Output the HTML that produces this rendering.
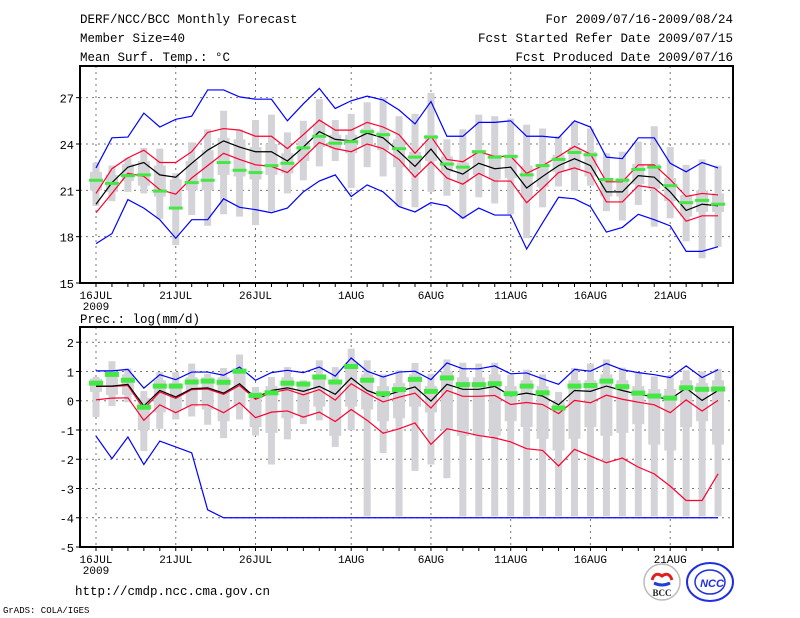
<!DOCTYPE html>
<html><head><meta charset="utf-8"><style>
body{margin:0;background:#fff;}
svg{display:block;font-family:"Liberation Mono","DejaVu Sans Mono",monospace;}
</style></head><body>
<svg id="c" width="800" height="618" viewBox="0 0 800 618">
<rect width="800" height="618" fill="#fff"/>
<g font-size="12.5" fill="#000">
<text x="80" y="23">DERF/NCC/BCC Monthly Forecast</text>
<text x="80" y="42">Member Size=40</text>
<text x="80" y="61">Mean Surf. Temp.: °C</text>
<text x="733" y="23" text-anchor="end">For 2009/07/16-2009/08/24</text>
<text x="733" y="42" text-anchor="end">Fcst Started Refer Date 2009/07/15</text>
<text x="733" y="61" text-anchor="end">Fcst Produced Date 2009/07/16</text>
<text x="80" y="323">Prec.: log(mm/d)</text>
<text x="75" y="595">http://cmdp.ncc.cma.gov.cn</text>
</g>
<text x="3" y="613" font-size="9">GrADS: COLA/IGES</text>
<g>
<circle cx="662" cy="582" r="18" fill="#fff" stroke="#bbb" stroke-width="1.5"/>
<path d="M652 580 q3 -9 10 -4 q7 -5 10 4" fill="none" stroke="#e02020" stroke-width="3"/>
<path d="M654 583 q8 4 16 0" fill="none" stroke="#2040d0" stroke-width="3"/>
<text x="662" y="596" font-size="9" font-weight="bold" text-anchor="middle" fill="#222" font-family="Liberation Serif,serif">BCC</text>
</g>
<g>
<ellipse cx="710" cy="582" rx="23" ry="19" fill="#fff" stroke="#2030e0" stroke-width="2"/>
<ellipse cx="710" cy="582" rx="15" ry="12" fill="none" stroke="#2030e0" stroke-width="1.5"/>
<text x="712" y="587" font-size="11" font-weight="bold" font-style="italic" text-anchor="middle" fill="#2030e0" font-family="Liberation Sans,sans-serif">NCC</text>
</g>
<g id="topPanel"></g>
<g id="botPanel"></g>
</svg>
<script>
// ---- temperature data (40 days from 16JUL) ----
const tMean=[20.1,21.5,22.5,22.8,22.0,21.85,22.75,23.6,24.2,23.8,23.5,23.5,22.9,23.8,24.8,24.3,24.2,24.7,24.4,23.5,22.55,23.67,22.4,22.05,22.75,22.4,22.5,21.15,21.9,22.6,23.05,22.6,20.9,20.9,21.95,21.85,20.9,19.7,20.1,20.0];
const tRedHi=[20.8,22.4,23.1,23.6,22.8,22.8,23.5,24.75,25.0,24.9,24.5,24.5,23.7,24.6,25.55,24.9,24.9,25.4,25.1,24.6,23.4,24.5,23.0,22.85,23.5,23.2,23.2,22.1,22.6,23.2,23.85,23.35,21.55,21.55,22.65,22.65,21.7,20.6,20.8,20.7];
const tRedLo=[19.55,20.8,22.1,21.9,21.05,20.75,21.8,22.6,23.4,23.0,22.65,22.55,22.15,23.1,24.1,23.7,23.5,24.0,23.7,23.0,21.85,22.85,21.8,21.4,22.1,21.6,21.6,20.2,21.15,22.15,22.45,22.1,20.25,20.25,21.3,21.15,20.3,19.0,19.35,19.35];
const tMax=[22.45,24.4,24.45,26.0,25.1,25.6,25.8,27.5,27.5,27.05,26.9,26.9,25.5,26.6,27.6,26.3,26.8,27.1,26.85,26.2,25.3,26.75,24.5,24.5,25.4,25.4,25.5,24.5,24.5,24.4,25.5,25.1,23.15,23.05,24.4,24.4,22.75,22.2,22.8,22.45];
const tMin=[17.55,18.2,20.4,19.85,19.1,17.9,19.1,19.1,20.45,19.9,19.75,19.55,19.85,20.9,21.6,22.0,20.6,21.35,20.9,19.95,19.6,20.2,20.0,19.2,19.85,19.4,19.4,17.2,18.9,20.55,20.45,19.95,18.3,18.6,19.45,19.1,18.7,17.05,17.05,17.35];
const tCtl=[21.65,21.45,21.95,22.0,20.95,19.85,21.5,21.65,22.8,22.3,22.15,22.6,22.75,23.75,24.5,24.05,24.15,24.8,24.6,23.7,23.15,24.45,22.7,22.5,23.5,23.15,23.2,22.0,22.6,23.0,23.45,23.3,21.7,21.65,22.35,22.5,21.3,20.2,20.35,20.1];
const tBoxHi=[22.8,22.6,23.1,23.75,23.7,22.1,24.1,24.95,26.15,24.95,25.55,25.9,24.75,25.5,26.9,25.55,25.95,26.7,27.0,25.8,25.95,27.3,24.3,24.95,25.9,25.8,25.65,25.25,25.0,24.5,25.45,25.0,23.4,23.5,24.15,25.15,23.8,22.65,23.0,22.6];
const tBoxLo=[20.0,20.3,20.9,20.8,19.15,17.45,19.4,18.7,19.45,19.3,18.75,19.65,20.8,21.65,22.55,22.9,21.15,22.5,21.9,19.95,19.9,20.9,20.65,19.15,20.55,20.15,19.45,17.9,19.9,21.25,20.95,21.3,19.65,19.05,20.05,18.65,19.2,17.7,16.6,17.35];
const tInHi=[22.2,22.0,22.7,22.9,22.6,21.7,22.9,23.6,24.4,24.3,23.8,24.0,23.4,24.2,25.3,24.6,24.6,25.0,24.8,24.3,23.5,24.6,23.2,22.8,23.6,23.3,23.3,22.6,22.7,23.3,23.8,23.5,21.8,21.8,22.7,22.7,21.8,20.7,21.0,20.8];
const tInLo=[21.0,20.9,21.6,21.3,20.6,19.9,21.0,21.0,22.0,21.9,21.7,22.0,22.1,22.9,23.8,23.7,23.4,23.9,23.6,22.5,22.3,22.9,22.2,21.5,22.0,21.7,21.8,20.5,21.2,22.2,22.3,21.9,20.6,20.6,21.4,21.1,20.3,19.3,19.6,19.6];
// ---- precipitation data ----
const pMean=[0.5,0.5,0.56,-0.18,0.35,0.13,0.41,0.44,0.26,0.58,0.1,0.35,0.44,0.32,0.49,0.22,0.78,0.35,0.15,0.32,0.47,-0.01,0.56,0.39,0.39,0.49,0.17,0.26,0.16,-0.14,0.35,0.32,0.5,0.35,0.22,0.13,0.05,0.43,0.01,0.35];
const pRedHi=[0.49,0.49,0.52,-0.28,0.3,0.08,0.38,0.4,0.22,0.52,0.05,0.28,0.38,0.2,0.38,0.02,0.58,0.25,-0.04,0.12,0.26,-0.25,0.35,0.15,0.15,0.18,-0.13,-0.06,-0.13,-0.44,0.01,-0.07,0.19,0.05,-0.05,-0.14,-0.41,0.03,-0.35,0.01];
const pRedLo=[0.03,0.09,0.1,-0.67,-0.14,-0.41,-0.14,-0.14,-0.41,-0.07,-0.58,-0.39,-0.35,-0.56,-0.39,-0.71,-0.3,-0.67,-1.11,-0.96,-0.76,-1.49,-0.96,-1.07,-1.19,-1.27,-1.41,-1.64,-1.7,-2.23,-1.66,-1.89,-2.12,-1.96,-2.27,-2.5,-2.92,-3.41,-3.41,-2.5];
const pMax=[1.02,1.02,1.07,0.43,0.89,0.72,0.98,0.98,0.87,1.15,0.7,0.96,1.04,0.96,1.15,0.84,1.46,1.01,0.81,0.98,1.01,0.72,1.29,1.09,1.09,1.19,0.92,0.95,0.75,0.56,1.07,1.01,1.27,1.06,0.96,0.89,0.79,1.19,0.79,1.06];
const pMin=[-1.21,-1.98,-1.24,-2.18,-1.38,-1.58,-1.78,-3.73,-4,-4,-4,-4,-4,-4,-4,-4,-4,-4,-4,-4,-4,-4,-4,-4,-4,-4,-4,-4,-4,-4,-4,-4,-4,-4,-4,-4,-4,-4,-4,-4];
const pCtl=[0.6,0.9,0.7,-0.22,0.5,0.5,0.64,0.67,0.63,1.01,0.18,0.27,0.6,0.57,0.81,0.64,1.17,0.7,0.24,0.38,0.73,0.32,0.78,0.55,0.55,0.58,0.24,0.5,0.27,-0.25,0.5,0.52,0.67,0.48,0.26,0.16,0.09,0.44,0.39,0.4];
const pBoxHi=[0.81,1.35,1.1,0.33,0.98,0.98,1.27,0.92,1.12,1.58,0.47,0.81,1.15,0.7,1.38,1.15,1.78,1.38,0.9,1.04,1.29,0.92,1.41,1.3,1.27,1.3,0.89,1.06,0.9,0.3,1.12,1.27,1.41,1.13,0.98,0.83,0.87,1.04,1.0,1.09];
const pBoxLo=[-0.56,-0.18,-0.05,-1.72,-0.96,-0.64,-0.54,-0.82,-1.28,-0.64,-1.19,-2.18,-1.32,-0.8,-0.67,-1.58,-1.01,-3.95,-1.79,-3.95,-2.4,-2.18,-2.65,-3.95,-3.95,-3.95,-3.95,-3.95,-3.95,-3.95,-3.95,-3.95,-3.95,-3.95,-3.95,-3.95,-3.95,-3.95,-3.95,-3.95];
const pInHi=[0.75,1.0,0.9,0.1,0.7,0.6,0.8,0.8,0.8,1.1,0.3,0.5,0.8,0.6,0.9,0.7,1.3,0.9,0.5,0.6,0.9,0.5,1.0,0.8,0.8,0.9,0.5,0.7,0.5,0.0,0.7,0.7,0.9,0.7,0.5,0.4,0.4,0.7,0.6,0.7];
const pInLo=[0.3,0.2,0.2,-1.0,-0.4,-0.3,-0.2,-0.3,-0.7,-0.2,-0.9,-1.1,-0.6,-0.5,-0.2,-1.2,-0.2,-0.3,-0.7,-0.6,-0.2,-0.4,-1.0,-1.2,-1.2,-1.2,-0.7,-0.9,-1.3,-1.7,-1.3,-0.9,-1.2,-1.1,-0.8,-1.5,-1.7,-0.9,-0.7,-1.5];
const dayTicks=[0,5,10,16,21,26,31,36];
const dayLabels=["16JUL","21JUL","26JUL","1AUG","6AUG","11AUG","16AUG","21AUG"];
const tTicks=[15,18,21,24,27];
const pTicks=[-5,-4,-3,-2,-1,0,1,2];

const NS="http://www.w3.org/2000/svg";
function mk(p,tag,at){const e=document.createElementNS(NS,tag);for(const k in at)e.setAttribute(k,at[k]);p.appendChild(e);return e;}
const X0=80,X1=733;
function xs(d){return 96+d*15.95;}

function panel(g,cfg){
  const ys=v=>cfg.yb-(v-cfg.vmin)*(cfg.yb-cfg.yt)/(cfg.vmax-cfg.vmin);
  cfg.ticks.forEach(v=>{
    const y=ys(v);
    if(v>cfg.vmin){const l=mk(g,'line',{x1:X0,x2:X1,y1:y,y2:y,stroke:'#777','stroke-dasharray':'2,4','stroke-width':1});
    
    }
    const t=mk(g,'text',{x:X0-6,y:y+5,'text-anchor':'end','font-size':12});t.textContent=v;
    
    
    mk(g,'line',{x1:X0-4,x2:X0,y1:y,y2:y,stroke:'#000'});
  });
  dayTicks.forEach((d,i)=>{
    const x=xs(d);
    const l=mk(g,'line',{x1:x,x2:x,y1:cfg.yt,y2:cfg.yb,stroke:'#777','stroke-dasharray':'2,4'});
    
    
    const t=mk(g,'text',{x:x,y:cfg.yb+16,'text-anchor':'middle','font-size':11});t.textContent=dayLabels[i];
    
    
  });
  const yr=mk(g,'text',{x:xs(0),y:cfg.yb+27,'text-anchor':'middle','font-size':11});yr.textContent='2009';
  
  
  for(let d=0;d<40;d++){mk(g,'line',{x1:xs(d),x2:xs(d),y1:cfg.yb,y2:cfg.yb+4,stroke:'#000'});}
  for(let d=0;d<40;d++){
    const x=xs(d);
    const r1=mk(g,'rect',{x:x-3.5,width:7,y:ys(cfg.bhi[d]),height:ys(cfg.blo[d])-ys(cfg.bhi[d]),fill:'#d3d3d8'});
    
    
    const r2=mk(g,'rect',{x:x-6,width:12,y:ys(cfg.ihi[d]),height:ys(cfg.ilo[d])-ys(cfg.ihi[d]),fill:'#d3d3d8'});
    
    
  }
  function line(arr,col,name){
    const p=mk(g,'polyline',{points:arr.map((v,d)=>xs(d)+','+ys(v)).join(' '),fill:'none',stroke:col,'stroke-width':1.2});
    
    
  }
  line(cfg.max,'#0000ff','max-line');line(cfg.min,'#0000ff','min-line');
  line(cfg.rhi,'#ff0030','upper-spread-line');line(cfg.rlo,'#ff0030','lower-spread-line');
  line(cfg.mean,'#000','ensemble-mean-line');
  for(let d=0;d<40;d++){
    const r=mk(g,'rect',{x:xs(d)-7,width:14,y:ys(cfg.ctl[d])-cfg.gh/2,height:cfg.gh,fill:'#44e844'});
    
    
  }
  const f=mk(g,'rect',{x:X0,y:cfg.yt,width:X1-X0,height:cfg.yb-cfg.yt,fill:'none',stroke:'#000','stroke-width':2});
  
  
}
const topG=document.getElementById('topPanel');


panel(topG,{yt:66,yb:283,vmin:15,vmax:29.05,ticks:tTicks,mean:tMean,rhi:tRedHi,rlo:tRedLo,max:tMax,min:tMin,ctl:tCtl,bhi:tBoxHi,blo:tBoxLo,ihi:tInHi,ilo:tInLo,gh:3});
const botG=document.getElementById('botPanel');


panel(botG,{yt:327,yb:547,vmin:-5,vmax:2.52,ticks:pTicks,mean:pMean,rhi:pRedHi,rlo:pRedLo,max:pMax,min:pMin,ctl:pCtl,bhi:pBoxHi,blo:pBoxLo,ihi:pInHi,ilo:pInLo,gh:5});
</script>
</body></html>
